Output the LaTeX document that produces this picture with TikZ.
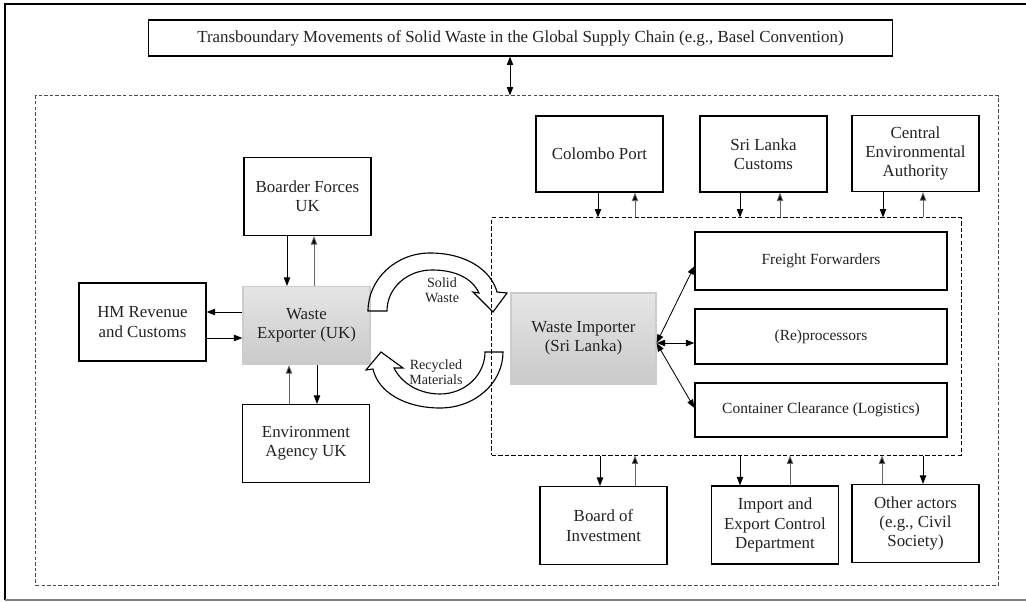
\documentclass[tikz,border=0pt]{standalone}
\usepackage{fontspec}
\setmainfont{Liberation Serif}
\usetikzlibrary{arrows.meta, positioning, calc}
\definecolor{txtgray}{HTML}{222222}

\begin{document}
\begin{tikzpicture}[x=0.025cm, y=-0.025cm,
  block/.style={rectangle, draw, line width=0.8pt, minimum width=3.175cm, minimum height=1.95cm, align=center, inner sep=2pt, text=txtgray, font=\fontsize{12}{13.8}\selectfont},
  actor/.style={block, draw=gray!40, top color=gray!20, bottom color=gray!42},
  sub/.style={block, minimum width=6.3cm, font=\fontsize{11}{13}\selectfont},
  zone/.style={rectangle, draw, inner sep=0pt, dash pattern=on 3pt off 1.6pt, line width=0.7pt},
  lbl/.style={align=center, text=txtgray, font=\fontsize{10}{11}\selectfont},
  arrow/.style={-{Triangle[length=6pt, width=4.5pt]}, line width=0.6pt},
  back/.style={arrow, draw=black!60, -{Triangle[length=6pt, width=4.5pt, fill=black]}},
  dbl/.style={{Triangle[length=6pt, width=4.5pt]}-{Triangle[length=6pt, width=4.5pt]}, line width=0.6pt},
  flow/.style={draw, line width=0.8pt, line join=miter}]

\useasboundingbox (0,0) rectangle (1026,602);
\draw[line width=0.9pt] (1026,4) -- (5,4) -- (5,600);
\draw[gray, line width=0.9pt] (5,600) -- (1026,600);

% regions
\node[zone, draw=black!70, dash pattern=on 2.5pt off 1.5pt, minimum width=24.05cm, minimum height=12.225cm] (region) at (517,340.5) {};
\node[zone, minimum width=11.725cm, minimum height=5.925cm] (slbox) at (726.5,336.5) {};

\node[block, minimum width=18.575cm, minimum height=0.9cm] (title) at (520.5,38) {Transboundary Movements of Solid Waste in the Global Supply Chain (e.g., Basel Convention)};

% UK side
\node[actor] (exporter) at (306.5,325.5) {Waste\\Exporter (UK)};
\node[block] (bfuk) at (307.5,196.5) {Boarder Forces\\UK};
\node[block] (hmrc) at (142.5,322) {HM Revenue\\and Customs};
\node[block] (envuk) at (306,443.5) {Environment\\Agency UK};

% Sri Lanka side
\node[actor, minimum width=3.625cm, minimum height=2.275cm] (importer) at (583.5,338.5) {Waste Importer\\(Sri Lanka)};
\node[sub, minimum height=1.45cm] (freight) at (821,261) {Freight Forwarders};
\node[sub, minimum height=1.375cm] (reproc) at (821,336.5) {(Re)processors};
\node[sub, minimum height=1.35cm] (contain) at (821,410) {Container Clearance (Logistics)};

\node[block, minimum height=1.9cm] (colombo) at (599.5,154) {Colombo Port};
\node[block, minimum height=1.9cm] (slc) at (763.5,154) {Sri Lanka\\Customs};
\node[block, minimum height=1.9cm] (cea) at (915.5,153.5) {Central\\Environmental\\Authority};

\node[block] (boi) at (603.5,525.5) {Board of\\Investment};
\node[block] (iec) at (775,525) {Import and\\Export Control\\Department};
\node[block] (other) at (915.5,523.5) {Other actors\\(e.g., Civil\\Society)};

% flows of waste
\draw[flow] (368,311) .. controls (368,279) and (396,253) .. (430,253)
  .. controls (466,253) and (491,270) .. (497,292)
  -- (507,293) -- (493,312) -- (473,292) -- (479,293)
  .. controls (472,278) and (455,270) .. (432,270)
  .. controls (407,270) and (387,288) .. (387,311) -- cycle;
\draw[flow] (503,352) .. controls (503,383) and (475,408) .. (440,408)
  .. controls (405,408) and (378,392) .. (373,369)
  -- (366,370) -- (381,352) -- (403,368) -- (394,368)
  .. controls (402,384) and (420,394) .. (440,394)
  .. controls (465,394) and (485,375) .. (485,352) -- cycle;
\node[lbl] (swlbl) at (442,290) {Solid\\Waste};
\node[lbl] (rmlbl) at (436,372) {Recycled\\Materials};

\draw[dbl] (title.south -| 510,0) -- (region.north -| 510,0);

\draw[arrow] (bfuk.south -| 287,0) -- (exporter.north -| 287,0);
\draw[back] (exporter.north -| 314,0) -- (bfuk.south -| 314,0);
\draw[arrow] (exporter.west |- 0,312) -- (hmrc.east |- 0,312);
\draw[arrow] (hmrc.east |- 0,338) -- (exporter.west |- 0,338);
\draw[back] (envuk.north -| 289,0) -- (exporter.south -| 289,0);
\draw[arrow] (exporter.south -| 317,0) -- (envuk.north -| 317,0);

\draw[dbl] (importer.east |- 0,343) -- (freight.west |- 0,266);
\draw[dbl] (importer.east |- 0,343) -- (reproc.west |- 0,343);
\draw[dbl] (importer.east |- 0,343) -- (contain.west |- 0,408);

\draw[arrow] (colombo.south -| 598,0) -- (slbox.north -| 598,0);
\draw[back] (slbox.north -| 635,0) -- (colombo.south -| 635,0);
\draw[arrow] (slc.south -| 740,0) -- (slbox.north -| 740,0);
\draw[back] (slbox.north -| 780,0) -- (slc.south -| 780,0);
\draw[arrow] (cea.south -| 883,0) -- (slbox.north -| 883,0);
\draw[back] (slbox.north -| 923,0) -- (cea.south -| 923,0);

\draw[arrow] (slbox.south -| 600,0) -- (boi.north -| 600,0);
\draw[back] (boi.north -| 635,0) -- (slbox.south -| 635,0);
\draw[arrow] (slbox.south -| 740,0) -- (iec.north -| 740,0);
\draw[back] (iec.north -| 790,0) -- (slbox.south -| 790,0);
\draw[back] (other.north -| 882,0) -- (slbox.south -| 882,0);
\draw[arrow] (slbox.south -| 923,0) -- (other.north -| 923,0);
\end{tikzpicture}
\end{document}
